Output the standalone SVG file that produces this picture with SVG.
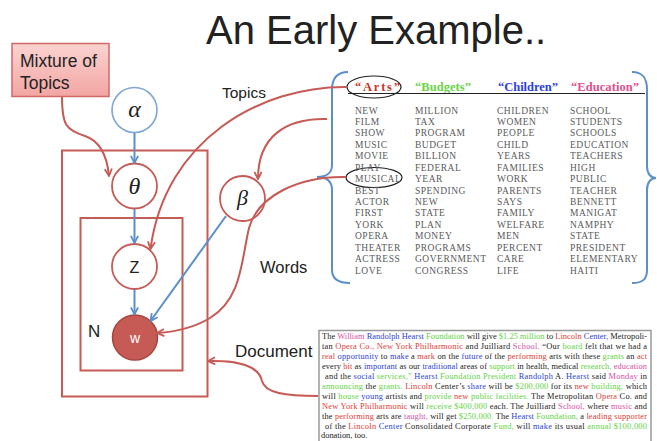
<svg xmlns="http://www.w3.org/2000/svg" width="657" height="441" viewBox="0 0 657 441">
<style>
.sans{font-family:"Liberation Sans",Arial,sans-serif;fill:#222}
.greek{font-family:"Liberation Serif","Times New Roman",serif;font-style:italic;fill:#222;text-anchor:middle}
.plate{fill:none;stroke:#c65a55;stroke-width:2}
.node{fill:#fff;stroke:#c65a55;stroke-width:1.8}
.bl{fill:none;stroke:#5b8fca;stroke-width:2}
.rd{fill:none;stroke:#c65a55;stroke-width:2}
.hd{font-family:"Liberation Serif","Times New Roman",serif;font-weight:bold;font-size:12.5px}
.wd{font-family:"Liberation Serif","Times New Roman",serif;font-size:9.5px;fill:#5a5a5a;letter-spacing:0.5px}
.doc{font-family:"Liberation Serif","Times New Roman",serif;font-size:8.4px;fill:#222}
.r{fill:#e03c34}.b{fill:#2b3fd6}.g{fill:#5fd443}.p{fill:#d94fa6}
</style>
<defs>
<linearGradient id="pk" x1="0" y1="0" x2="0" y2="1">
<stop offset="0" stop-color="#fbd3d1"/><stop offset="1" stop-color="#f2a6a3"/>
</linearGradient>
<marker id="ab" viewBox="0 0 10 10" refX="9" refY="5" markerWidth="9" markerHeight="9" markerUnits="userSpaceOnUse" orient="auto"><path d="M1,1 L9,5 L1,9" fill="none" stroke="#5b8fca" stroke-width="2"/></marker>
<marker id="ar" viewBox="0 0 10 10" refX="9" refY="5" markerWidth="9" markerHeight="9" markerUnits="userSpaceOnUse" orient="auto"><path d="M1,1 L9,5 L1,9" fill="none" stroke="#c65a55" stroke-width="2"/></marker>
</defs>
<rect width="657" height="441" fill="#fff"/>
<text class="sans" x="206" y="44" font-size="40">An Early Example..</text>

<g id="plates">
<rect class="plate" x="62" y="150.5" width="145.5" height="246"/>
<rect class="plate" x="80.5" y="218" width="102" height="152.5"/>
<text class="sans" x="88" y="337" font-size="17">N</text>
</g>

<g id="mixture">
<rect x="12" y="43.5" width="97" height="53" fill="url(#pk)" stroke="#d06a66" stroke-width="1.5"/>
<text class="sans" x="20" y="67" font-size="17.5" fill="#333">Mixture of</text>
<text class="sans" x="20" y="89" font-size="17.5" fill="#333">Topics</text>
</g>

<g id="alpha"><circle cx="134.5" cy="110" r="22.5" fill="#fff" stroke="#7ea6d6" stroke-width="1.6"/><text class="greek" x="134.5" y="117" font-size="24">α</text></g>
<g id="theta"><circle class="node" cx="134.5" cy="186" r="22.5"/><text class="greek" x="134.5" y="194" font-size="24">θ</text></g>
<g id="z"><circle class="node" cx="134.5" cy="266.5" r="22.5"/><text class="sans" x="134.5" y="272.5" font-size="16" text-anchor="middle">Z</text></g>
<g id="w"><circle cx="135" cy="337.5" r="22.5" fill="#c65b55" stroke="#a84440" stroke-width="1.5"/><text class="sans" x="135" y="343" font-size="14" text-anchor="middle" style="fill:#fff">w</text></g>
<g id="beta"><circle class="node" cx="242.5" cy="198.5" r="22.5"/><text class="greek" x="242.5" y="205" font-size="22">β</text></g>

<g id="labels">
<text class="sans" x="222" y="98" font-size="15.5">Topics</text>
<text class="sans" x="260" y="273" font-size="16.5">Words</text>
<text class="sans" x="235" y="357" font-size="17">Document</text>
</g>

<g id="topics-table">
<path d="M348,72 C337,72 332,78 332,90 L332,165 C332,173 326,177 317,177 C326,177 332,181 332,190 L332,270 C332,279 338,283 350,283" fill="none" stroke="#5b8fca" stroke-width="2"/>
<path d="M632,72 C643,72 647,78 647,90 L647,166 C647,174 651,178 656,178 C651,178 647,182 647,190 L647,270 C647,279 643,283 632,283" fill="none" stroke="#5b8fca" stroke-width="2"/>
<text class="hd" x="355" y="90.5" fill="#c8352c" textLength="45" lengthAdjust="spacing">“Arts”</text>
<text class="hd" x="415" y="90.5" fill="#6ad448" textLength="56" lengthAdjust="spacing">“Budgets”</text>
<text class="hd" x="498" y="90.5" fill="#2d3fe0" textLength="60" lengthAdjust="spacing">“Children”</text>
<text class="hd" x="571" y="90.5" fill="#e0508c" textLength="68" lengthAdjust="spacing">“Education”</text>
<line x1="348" y1="93.5" x2="645" y2="93.5" stroke="#222" stroke-width="1"/>
<ellipse cx="374" cy="87" rx="27" ry="11" fill="none" stroke="#222" stroke-width="1.2"/>
<ellipse cx="374" cy="177.5" rx="28" ry="10" fill="none" stroke="#222" stroke-width="1.2"/>
<text class="wd"><tspan x="355" y="113.5">NEW</tspan><tspan x="355" dy="11.43">FILM</tspan><tspan x="355" dy="11.43">SHOW</tspan><tspan x="355" dy="11.43">MUSIC</tspan><tspan x="355" dy="11.43">MOVIE</tspan><tspan x="355" dy="11.43">PLAY</tspan><tspan x="355" dy="11.43">MUSICAL</tspan><tspan x="355" dy="11.43">BEST</tspan><tspan x="355" dy="11.43">ACTOR</tspan><tspan x="355" dy="11.43">FIRST</tspan><tspan x="355" dy="11.43">YORK</tspan><tspan x="355" dy="11.43">OPERA</tspan><tspan x="355" dy="11.43">THEATER</tspan><tspan x="355" dy="11.43">ACTRESS</tspan><tspan x="355" dy="11.43">LOVE</tspan></text>
<text class="wd"><tspan x="415" y="113.5">MILLION</tspan><tspan x="415" dy="11.43">TAX</tspan><tspan x="415" dy="11.43">PROGRAM</tspan><tspan x="415" dy="11.43">BUDGET</tspan><tspan x="415" dy="11.43">BILLION</tspan><tspan x="415" dy="11.43">FEDERAL</tspan><tspan x="415" dy="11.43">YEAR</tspan><tspan x="415" dy="11.43">SPENDING</tspan><tspan x="415" dy="11.43">NEW</tspan><tspan x="415" dy="11.43">STATE</tspan><tspan x="415" dy="11.43">PLAN</tspan><tspan x="415" dy="11.43">MONEY</tspan><tspan x="415" dy="11.43">PROGRAMS</tspan><tspan x="415" dy="11.43">GOVERNMENT</tspan><tspan x="415" dy="11.43">CONGRESS</tspan></text>
<text class="wd"><tspan x="497" y="113.5">CHILDREN</tspan><tspan x="497" dy="11.43">WOMEN</tspan><tspan x="497" dy="11.43">PEOPLE</tspan><tspan x="497" dy="11.43">CHILD</tspan><tspan x="497" dy="11.43">YEARS</tspan><tspan x="497" dy="11.43">FAMILIES</tspan><tspan x="497" dy="11.43">WORK</tspan><tspan x="497" dy="11.43">PARENTS</tspan><tspan x="497" dy="11.43">SAYS</tspan><tspan x="497" dy="11.43">FAMILY</tspan><tspan x="497" dy="11.43">WELFARE</tspan><tspan x="497" dy="11.43">MEN</tspan><tspan x="497" dy="11.43">PERCENT</tspan><tspan x="497" dy="11.43">CARE</tspan><tspan x="497" dy="11.43">LIFE</tspan></text>
<text class="wd"><tspan x="570" y="113.5">SCHOOL</tspan><tspan x="570" dy="11.43">STUDENTS</tspan><tspan x="570" dy="11.43">SCHOOLS</tspan><tspan x="570" dy="11.43">EDUCATION</tspan><tspan x="570" dy="11.43">TEACHERS</tspan><tspan x="570" dy="11.43">HIGH</tspan><tspan x="570" dy="11.43">PUBLIC</tspan><tspan x="570" dy="11.43">TEACHER</tspan><tspan x="570" dy="11.43">BENNETT</tspan><tspan x="570" dy="11.43">MANIGAT</tspan><tspan x="570" dy="11.43">NAMPHY</tspan><tspan x="570" dy="11.43">STATE</tspan><tspan x="570" dy="11.43">PRESIDENT</tspan><tspan x="570" dy="11.43">ELEMENTARY</tspan><tspan x="570" dy="11.43">HAITI</tspan></text>
</g>

<g id="document">
<rect x="319" y="330.5" width="332" height="115" fill="#fff" stroke="#999" stroke-width="1.5"/>
<text class="doc" x="322" y="338.5" textLength="325" lengthAdjust="spacing">The <tspan class="p">William</tspan> <tspan class="b">Randolph Hearst</tspan> <tspan class="g">Foundation</tspan> will give <tspan class="g">$1.25 million</tspan> to <tspan class="r">Lincoln</tspan> <tspan class="b">Center,</tspan> Metropoli-</text>
<text class="doc" x="322" y="348.5" textLength="325" lengthAdjust="spacing">tan <tspan class="r">Opera Co.,</tspan> <tspan class="r">New York Philharmonic</tspan> and Juilliard <tspan class="p">School.</tspan> “Our <tspan class="g">board</tspan> felt that we had a</text>
<text class="doc" x="322" y="358.5" textLength="325" lengthAdjust="spacing"><tspan class="r">real</tspan> <tspan class="b">opportunity</tspan> to <tspan class="b">make</tspan> a <tspan class="r">mark</tspan> on the <tspan class="b">future</tspan> of the <tspan class="r">performing</tspan> arts with these <tspan class="g">grants</tspan> an <tspan class="r">act</tspan></text>
<text class="doc" x="322" y="368.5" textLength="325" lengthAdjust="spacing">every <tspan class="r">bit</tspan> as <tspan class="b">important</tspan> as our <tspan class="b">traditional</tspan> areas of <tspan class="g">support</tspan> in health, medical <tspan class="g">research,</tspan> <tspan class="p">education</tspan></text>
<text class="doc" x="325" y="378.5" textLength="322" lengthAdjust="spacing">and the <tspan class="b">social</tspan> <tspan class="g">services,”</tspan> <tspan class="b">Hearst</tspan> <tspan class="g">Foundation President</tspan> <tspan class="b">Randolph</tspan> A. <tspan class="b">Hearst</tspan> said <tspan class="p">Monday</tspan> in</text>
<text class="doc" x="322" y="388.5" textLength="325" lengthAdjust="spacing"><tspan class="g">announcing</tspan> the <tspan class="g">grants.</tspan> <tspan class="r">Lincoln</tspan> Center’s <tspan class="b">share</tspan> will be <tspan class="g">$200,000</tspan> for its <tspan class="r">new</tspan> <tspan class="g">building,</tspan> which</text>
<text class="doc" x="322" y="398.5" textLength="325" lengthAdjust="spacing">will <tspan class="g">house</tspan> <tspan class="b">young</tspan> artists and <tspan class="g">provide</tspan> <tspan class="r">new</tspan> <tspan class="g">public facilities.</tspan> The Metropolitan <tspan class="r">Opera</tspan> Co. and</text>
<text class="doc" x="322" y="408.5" textLength="325" lengthAdjust="spacing"><tspan class="r">New York Philharmonic</tspan> will <tspan class="g">receive $400,000</tspan> each. The Juilliard <tspan class="p">School,</tspan> where <tspan class="p">music</tspan> and</text>
<text class="doc" x="322" y="418.5" textLength="325" lengthAdjust="spacing">the <tspan class="r">performing</tspan> arts are <tspan class="p">taught,</tspan> will get <tspan class="g">$250,000.</tspan> The <tspan class="b">Hearst</tspan> <tspan class="g">Foundation,</tspan> a <tspan class="r">leading supporter</tspan></text>
<text class="doc" x="325" y="428.5" textLength="322" lengthAdjust="spacing">of the <tspan class="r">Lincoln</tspan> <tspan class="b">Center</tspan> Consolidated Corporate <tspan class="g">Fund,</tspan> will <tspan class="b">make</tspan> its usual <tspan class="g">annual $100,000</tspan></text>
<text class="doc" x="321" y="438.3">donation, too.</text>
</g>

<g id="connectors">
<line class="bl" x1="134.5" y1="133" x2="134.5" y2="163" marker-end="url(#ab)"/>
<line class="bl" x1="134.5" y1="209" x2="134.5" y2="243" marker-end="url(#ab)"/>
<line class="bl" x1="134.5" y1="289.5" x2="134.5" y2="314.5" marker-end="url(#ab)"/>
<line class="bl" x1="226" y1="216" x2="150.5" y2="321" marker-end="url(#ab)"/>
<path class="rd" d="M62,97 C62,125 66,130 85,136 C100,141 107,155 109,176" marker-end="url(#ar)"/>
<path class="rd" d="M347,87 C260,86 165,140 150.5,249" marker-end="url(#ar)"/>
<path class="rd" d="M327,119 C285,118 258,137 258,179" marker-end="url(#ar)"/>
<path class="rd" d="M346,177 C300,176 258,195 249,228 C241,262 242,298 210,318 C192,329 172,332 157,333" marker-end="url(#ar)"/>
<path class="rd" d="M318,396 C285,396 265,393 262,381 C259,367 240,360 208,361" marker-end="url(#ar)"/>
</g>
</svg>
